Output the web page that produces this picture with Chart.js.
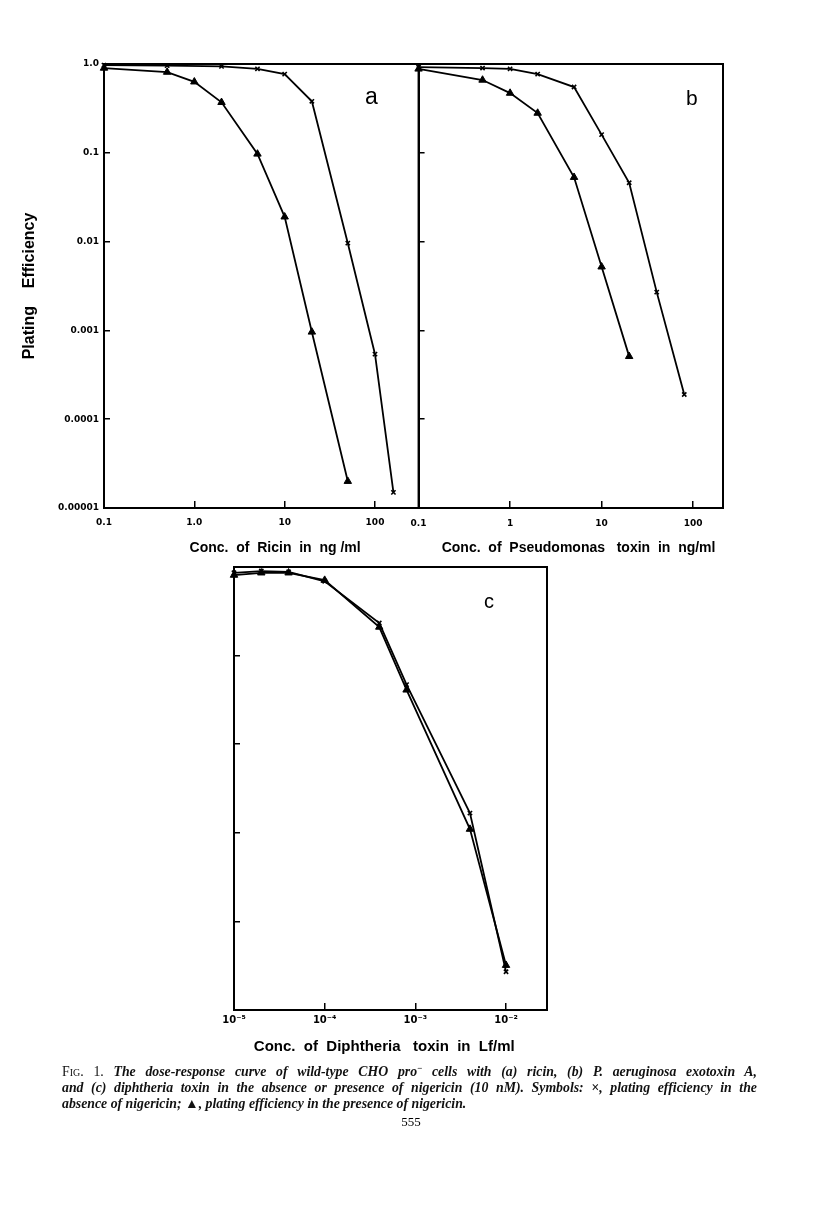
<!DOCTYPE html>
<html><head><meta charset="utf-8">
<script src="https://cdn.jsdelivr.net/npm/chart.js@4/dist/chart.umd.min.js"></script>
<style>
html,body{margin:0;padding:0;background:#fff}
body{width:816px;height:1218px;position:relative;overflow:hidden}
.box{position:absolute}
.lbl{position:absolute;font-family:"Liberation Sans",sans-serif;color:#000;white-space:nowrap}
.cap{position:absolute;left:62px;width:695px;height:16px;font-family:"Liberation Serif",serif;font-style:italic;font-weight:bold;font-size:13.8px;line-height:16px;white-space:nowrap;color:#111;text-align:justify;text-align-last:justify}
.sc{font-style:normal;font-variant:small-caps;font-weight:normal}
.sup{position:relative;top:-5px;font-size:9px;line-height:0;font-style:normal}
</style></head><body>
<div class="box" style="left:0;top:40px;width:425px;height:520px"><canvas id="ca"></canvas></div>
<div class="box" style="left:393px;top:40px;width:342px;height:520px"><canvas id="cb"></canvas></div>
<div class="box" style="left:200px;top:545px;width:360px;height:520px"><canvas id="cc"></canvas></div>

<div class="lbl" style="left:365px;top:85px;font-size:23px;line-height:23px">a</div>
<div class="lbl" style="left:686px;top:87px;font-size:21px;line-height:21px">b</div>
<div class="lbl" style="left:484px;top:591px;font-size:20px;line-height:20px">c</div>

<div class="cap" style="top:1064px"><span class="sc">Fig.</span> <span style="font-style:normal;font-weight:normal">1.</span> The dose-response curve of wild-type CHO pro<span class="sup">−</span> cells with (a) ricin, (b) P. aeruginosa exotoxin A,</div>
<div class="cap" style="top:1080px">and (c) diphtheria toxin in the absence or presence of nigericin (10 nM). Symbols: ×, plating efficiency in the</div>
<div class="cap" style="top:1096px;width:auto;text-align:left;text-align-last:left">absence of nigericin; ▲, plating efficiency in the presence of nigericin.</div>
<div class="lbl" style="left:396px;top:1114px;font-family:'Liberation Serif',serif;font-size:13px;line-height:16px;width:30px;text-align:center;color:#000">555</div>

<script>
// ---- data ----
const yDecades = [1e-5, 1e-4, 1e-3, 1e-2, 1e-1, 1];
const yTickLabels = ['0.00001', '0.0001', '0.001', '0.01', '0.1', '1.0'];

// (a) Ricin, ng/ml
const ricinTicks = [0.1, 1, 10, 100];
const ricinTickLabels = ['0.1', '1.0', '10', '100'];
const ricinDoseNoNig = [0.1, 0.5, 2, 5, 10, 20, 50, 100, 160];
const ricinNoNig = [0.97, 0.96, 0.94, 0.88, 0.77, 0.38, 0.0096, 0.00054, 0.000015];
const ricinDoseNig = [0.1, 0.5, 1, 2, 5, 10, 20, 50];
const ricinNig = [0.90, 0.81, 0.63, 0.37, 0.097, 0.019, 0.00096, 0.00002];

// (b) Pseudomonas toxin, ng/ml
const pseudoTicks = [0.1, 1, 10, 100];
const pseudoTickLabels = ['0.1', '1', '10', '100'];
const pseudoDoseNoNig = [0.1, 0.5, 1, 2, 5, 10, 20, 40, 80];
const pseudoNoNig = [0.92, 0.90, 0.88, 0.77, 0.55, 0.16, 0.046, 0.0027, 0.00019];
const pseudoDoseNig = [0.1, 0.5, 1, 2, 5, 10, 20];
const pseudoNig = [0.88, 0.66, 0.47, 0.28, 0.053, 0.0052, 0.00051];

// (c) Diphtheria toxin, Lf/ml
const diphTicks = [1e-5, 1e-4, 1e-3, 1e-2];
const diphTickLabels = ['10⁻⁵', '10⁻⁴', '10⁻³', '10⁻²'];
const diphDose = [1e-5, 2e-5, 4e-5, 1e-4, 4e-4, 8e-4, 4e-3, 1e-2];
const diphNoNig = [0.86, 0.90, 0.88, 0.69, 0.233, 0.047, 0.00167, 0.000027];
const diphNig = [0.81, 0.86, 0.86, 0.71, 0.21, 0.041, 0.0011, 0.000032];

// ---- chart setup ----
Chart.defaults.font.family = "'DejaVu Sans', sans-serif";
Chart.defaults.color = '#000';
Chart.defaults.animation = false;

const frame = {
  id: 'frame',
  afterDatasetsDraw(c) {
    const {ctx, chartArea: a} = c;
    ctx.save();
    ctx.strokeStyle = '#000';
    ctx.lineWidth = 2;
    ctx.strokeRect(a.left, a.top, a.right - a.left, a.bottom - a.top);
    ctx.restore();
  }
};

function pts(xs, ys) { return xs.map((x, i) => ({x: x, y: ys[i]})); }

function series(xs, ys, style) {
  const tri = style === 'triangle';
  return {
    data: pts(xs, ys),
    borderColor: '#000',
    backgroundColor: '#000',
    borderWidth: 1.8,
    pointStyle: style,
    pointRadius: tri ? 4.3 : 3,
    pointBorderWidth: tri ? 1 : 1.6,
    pointBackgroundColor: '#000',
    pointBorderColor: '#000',
    tension: 0,
    fill: false,
    clip: false
  };
}

function panel(id, cfg) {
  new Chart(document.getElementById(id), {
    type: 'line',
    data: {datasets: [series(cfg.x1, cfg.y1, 'crossRot'), series(cfg.x2, cfg.y2, 'triangle')]},
    options: {
      responsive: true,
      maintainAspectRatio: false,
      animation: false,
      events: [],
      layout: {padding: cfg.pad},
      plugins: {legend: {display: false}, tooltip: {enabled: false}},
      scales: {
        x: {
          type: 'logarithmic', position: 'bottom', min: cfg.xmin, max: cfg.xmax,
          afterBuildTicks(s) { s.ticks = cfg.xt.map(v => ({value: v})); },
          afterFit(s) { s.height = cfg.xh; },
          ticks: {display: true, callback: (v, i) => cfg.xl[i], font: {size: cfg.xfs || 9, weight: 'bold'},
                  padding: cfg.xpad, maxRotation: 0, minRotation: 0, autoSkip: false},
          grid: {drawOnChartArea: false, drawTicks: true, tickLength: -7, color: '#000', lineWidth: 1.5},
          border: {display: true, color: '#000', width: 2},
          title: {display: true, text: cfg.xtitle, color: '#000',
                  font: {family: "'Liberation Sans', sans-serif", size: cfg.tfs || 14, weight: 'bold'},
                  padding: {top: 0, bottom: cfg.tpb}}
        },
        y: {
          type: 'logarithmic', position: 'left', min: 1e-5, max: 1,
          afterBuildTicks(s) { s.ticks = yDecades.map(v => ({value: v})); },
          afterFit(s) { s.width = cfg.yw; },
          ticks: {display: cfg.ylabels, callback: (v, i) => yTickLabels[i], font: {size: 9, weight: 'bold'},
                  padding: 11, autoSkip: false},
          grid: {drawOnChartArea: false, drawTicks: true, tickLength: -6, color: '#000', lineWidth: 1.5},
          border: {display: true, color: '#000', width: 2},
          title: {display: !!cfg.ytitle, text: cfg.ytitle || '', color: '#000',
                  font: {family: "'Liberation Sans', sans-serif", size: 16, weight: 'bold'},
                  padding: {top: 0, bottom: 0}}
        }
      }
    },
    plugins: [frame]
  });
}

panel('ca', {
  x1: ricinDoseNoNig, y1: ricinNoNig, x2: ricinDoseNig, y2: ricinNig,
  xmin: 0.1, xmax: 307, xt: ricinTicks, xl: ricinTickLabels,
  xtitle: '       Conc.  of  Ricin  in  ng /ml', xh: 52, xpad: 16.6, tpb: 3.6,
  yw: 84, ylabels: true, ytitle: 'Plating    Efficiency',
  pad: {left: 20, top: 24, right: 6, bottom: 0}
});

panel('cb', {
  x1: pseudoDoseNoNig, y1: pseudoNoNig, x2: pseudoDoseNig, y2: pseudoNig,
  xmin: 0.1, xmax: 212, xt: pseudoTicks, xl: pseudoTickLabels,
  xtitle: '    Conc.  of  Pseudomonas   toxin  in  ng/ml', xh: 52, xpad: 17.6, tpb: 3.6,
  yw: 5, ylabels: false,
  pad: {left: 8, top: 24, right: 12, bottom: 0}
});

panel('cc', {
  x1: diphDose, y1: diphNoNig, x2: diphDose, y2: diphNig,
  xmin: 1e-5, xmax: 0.0283, xt: diphTicks, xl: diphTickLabels, xfs: 10,
  xtitle: 'Conc.  of  Diphtheria   toxin  in  Lf/ml   ', xh: 55, xpad: 11.6, tpb: 9.6, tfs: 15,
  yw: 5, ylabels: false,
  pad: {left: 29, top: 22, right: 13, bottom: 0}
});
</script>
</body></html>
